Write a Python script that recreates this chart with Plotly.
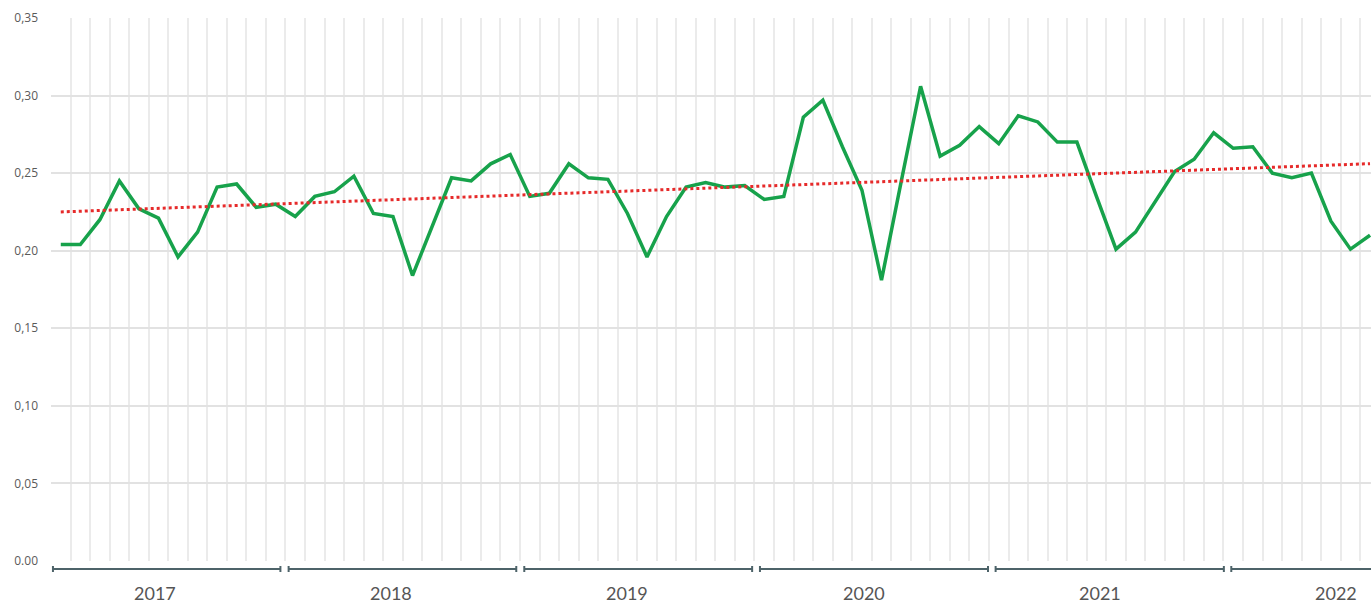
import plotly.graph_objects as go

years = [2017, 2018, 2019, 2020, 2021, 2022]
months = [f"{y}-{m:02d}" for y in years for m in range(1, 13)][:68]

values = [
    0.204, 0.204, 0.220, 0.245, 0.227, 0.221, 0.196, 0.212, 0.241, 0.243, 0.228, 0.230,
    0.222, 0.235, 0.238, 0.248, 0.224, 0.222, 0.184, 0.216, 0.247, 0.245, 0.256, 0.262,
    0.235, 0.237, 0.256, 0.247, 0.246, 0.224, 0.196, 0.222, 0.241, 0.244, 0.241, 0.242,
    0.233, 0.235, 0.286, 0.297, 0.267, 0.239, 0.181, 0.244, 0.306, 0.261, 0.268, 0.280,
    0.269, 0.287, 0.283, 0.270, 0.270, 0.235, 0.201, 0.212, 0.232, 0.251, 0.259, 0.276,
    0.266, 0.267, 0.250, 0.247, 0.250, 0.219, 0.201, 0.210,
]

trend_ends = [0.2250, 0.2561]

ytick_vals = [0, 0.05, 0.10, 0.15, 0.20, 0.25, 0.30, 0.35]
ytick_text = ["0.00", "0,05", "0,10", "0,15", "0,20", "0,25", "0,30", "0,35"]

GREEN = "#17a24b"
RED = "#e62a2a"
XGRID = "#ebebeb"
YGRID = "#e2e2e2"
BRACKET = "#4d6369"

fig = go.Figure()
fig.add_trace(go.Scatter(
    x=months, y=values, mode="lines",
    line=dict(color=GREEN, width=3.5),
    hoverinfo="x+y", showlegend=False,
))
fig.add_trace(go.Scatter(
    x=[months[0], months[-1]], y=trend_ends, mode="lines",
    line=dict(color=RED, width=3, dash="dot"),
    hoverinfo="skip", showlegend=False,
))

shapes = []
annotations = []
bracket_y = -8 / 543
tick_h = 3 / 543
for i, yr in enumerate(years):
    x0 = 12.06 * i - 0.4
    x1 = 12.07 * i + 11.24
    line = dict(color=BRACKET, width=2)
    shapes.append(dict(type="line", xref="x", yref="paper", x0=x0, x1=x1,
                       y0=bracket_y, y1=bracket_y, line=line))
    for xe in (x0, x1):
        shapes.append(dict(type="line", xref="x", yref="paper", x0=xe, x1=xe,
                           y0=bracket_y - tick_h, y1=bracket_y + tick_h, line=line))
    annotations.append(dict(
        x=12 * i + 4.82 + 0.09 * i, y=-32 / 543, xref="x", yref="paper",
        text=str(yr), showarrow=False, xanchor="center", yanchor="middle",
        borderpad=0,
        font=dict(family="Lato", size=18, color="#555555"),
    ))

fig.update_layout(
    width=1371, height=604, autosize=False,
    margin=dict(l=51, r=0, t=18, b=43),
    paper_bgcolor="white", plot_bgcolor="white",
    shapes=shapes, annotations=annotations,
    xaxis=dict(
        type="category", range=[-0.5, 67.05], tickson="boundaries",
        showticklabels=False, ticks="", showgrid=True, gridcolor=XGRID,
        gridwidth=1.5, zeroline=False, showline=False,
    ),
    yaxis=dict(
        range=[0, 0.35], tickvals=ytick_vals, ticktext=ytick_text,
        showgrid=True, gridcolor=YGRID, gridwidth=1.5, zeroline=False,
        showline=False, ticks="", ticklabelstandoff=12,
        tickfont=dict(family="Open Sans", size=12, color="#5a5a5a"),
    ),
)

fig.write_html(
    "out.html",
    config={"displayModeBar": False},
    post_script="document.body.style.margin='0';document.body.style.overflow='hidden';",
)
